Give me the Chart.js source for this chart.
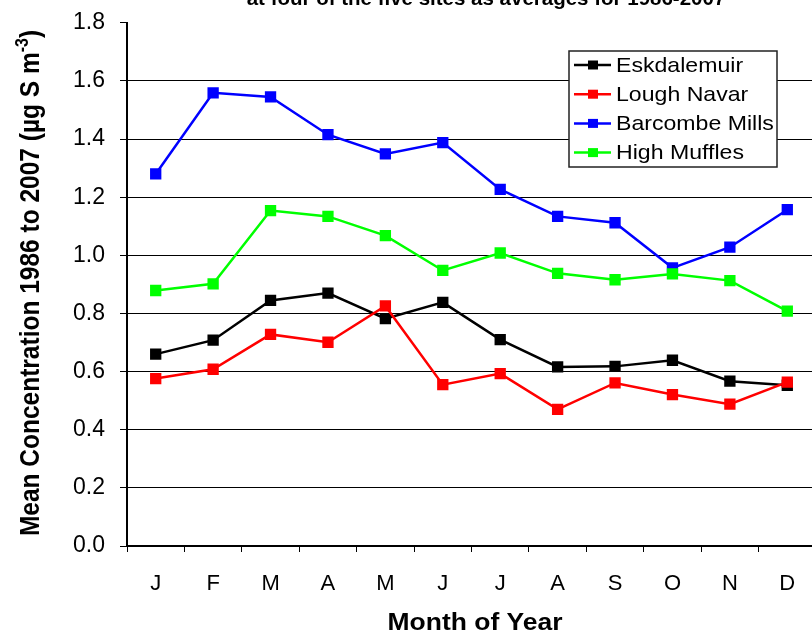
<!DOCTYPE html>
<html>
<head>
<meta charset="utf-8">
<script src="https://cdn.jsdelivr.net/npm/chart.js@4.4.1/dist/chart.umd.min.js"></script>
<style>
    html, body { margin: 0; padding: 0; background: #fff; overflow: hidden; }
    #wrap { width: 812px; height: 632px; overflow: hidden; position: relative; }
    /* canvas sits 6px above the frame so the plot top lands where the figure has it */
    #chart { position: absolute; left: 0; top: -6px; }
</style>
</head>
<body>
<div id="wrap"><canvas id="chart" width="824" height="638"></canvas></div>
<script>
"use strict";

// months, mean concentrations (µg S m-3)
const MONTHS = ["J", "F", "M", "A", "M", "J", "J", "A", "S", "O", "N", "D"];
const ESKDALEMUIR = [0.660, 0.708, 0.845, 0.870, 0.782, 0.838, 0.710, 0.616, 0.618, 0.639, 0.567, 0.553];
const LOUGH_NAVAR = [0.576, 0.608, 0.728, 0.701, 0.826, 0.555, 0.593, 0.470, 0.561, 0.521, 0.488, 0.564];
const BARCOMBE_MILLS = [1.280, 1.559, 1.545, 1.415, 1.349, 1.388, 1.227, 1.134, 1.112, 0.957, 1.028, 1.157];
const HIGH_MUFFLES = [0.879, 0.902, 1.154, 1.134, 1.068, 0.948, 1.008, 0.938, 0.916, 0.936, 0.913, 0.808];
const SITES = ["Eskdalemuir", "Lough Navar", "Barcombe Mills", "High Muffles"];
const SITE_COLORS = ["#000000", "#ff0000", "#0000ff", "#00ff00"];
const Y_MIN = 0, Y_MAX = 1.8, Y_STEP = 0.2;

const TITLE_TAIL = "at four of the five sites as averages for 1986-2007";
const X_TITLE = "Month of Year";
const Y_TITLE = ["Mean Concentration 1986 to 2007 (µg S m", "-3", ")"];

const FONT = "'Liberation Sans', Arial, sans-serif";
const SHIFT = 6; // canvas offset above the page frame

function series(label, values, color, order) {
    return {
        label, data: values, order,
        borderColor: color, backgroundColor: color,
        borderWidth: 2.5, tension: 0,
        pointStyle: "rect", pointRadius: 8, pointHoverRadius: 8,
        pointBorderWidth: 0,
    };
}

// draw text stretched horizontally (the figure is a bit wider than tall)
function stretchText(ctx, text, x, y, sx) {
    ctx.save();
    ctx.translate(x, y);
    ctx.scale(sx, 1);
    ctx.fillText(text, 0, 0);
    ctx.restore();
}

// text, titles and legend drawn by hand (superscript + boxed legend)
const decorations = {
    id: "decorations",
    afterDraw(chart) {
        const ctx = chart.ctx;
        ctx.save();
        ctx.translate(0, SHIFT); // work in page coordinates
        ctx.fillStyle = "#000";
        ctx.textBaseline = "alphabetic";

        // top title line, cut off by the frame
        ctx.font = "bold 20.5px " + FONT;
        ctx.textAlign = "center";
        ctx.fillText(TITLE_TAIL, 486, 4.5);

        // x title
        ctx.font = "bold 23px " + FONT;
        stretchText(ctx, X_TITLE, 475, 630, 1.15);

        // y title with superscript, rotated; thickened a little across
        const mainFont = "bold 24.5px " + FONT;
        const supFont = "bold 16px " + FONT;
        ctx.font = mainFont;
        const w0 = ctx.measureText(Y_TITLE[0]).width;
        const w2 = ctx.measureText(Y_TITLE[2]).width;
        ctx.font = supFont;
        const w1 = ctx.measureText(Y_TITLE[1]).width;
        const total = w0 + w1 + w2;
        ctx.save();
        ctx.translate(39, 283);
        ctx.rotate(-Math.PI / 2);
        ctx.scale(1, 1.1);
        ctx.textAlign = "left";
        let x = -total / 2;
        ctx.font = mainFont;
        ctx.fillText(Y_TITLE[0], x, 0);
        x += w0;
        ctx.font = supFont;
        ctx.fillText(Y_TITLE[1], x, -10);
        x += w1;
        ctx.font = mainFont;
        ctx.fillText(Y_TITLE[2], x, 0);
        ctx.restore();

        // legend box
        const box = { x: 569, y: 51, w: 208, h: 116 };
        ctx.fillStyle = "#fff";
        ctx.fillRect(box.x, box.y, box.w, box.h);
        ctx.strokeStyle = "#222";
        ctx.lineWidth = 1.5;
        ctx.strokeRect(box.x, box.y, box.w, box.h);
        ctx.font = "21px " + FONT;
        ctx.textAlign = "left";
        ctx.textBaseline = "middle";
        chart.data.datasets.forEach((ds, i) => {
            const cy = 65 + i * 29.2;
            ctx.strokeStyle = ds.borderColor;
            ctx.lineWidth = 2.5;
            ctx.beginPath();
            ctx.moveTo(574, cy);
            ctx.lineTo(611, cy);
            ctx.stroke();
            ctx.fillStyle = ds.backgroundColor;
            ctx.fillRect(588, cy - 4.5, 10, 9);
            ctx.fillStyle = "#000";
            stretchText(ctx, ds.label, 616, cy + 1, 1.1);
        });
        ctx.restore();
    },
};

new Chart(document.getElementById("chart"), {
    type: "line",
    data: {
        labels: MONTHS,
        datasets: [
            series(SITES[0], ESKDALEMUIR, SITE_COLORS[0], 4),
            series(SITES[1], LOUGH_NAVAR, SITE_COLORS[1], 3),
            series(SITES[2], BARCOMBE_MILLS, SITE_COLORS[2], 2),
            series(SITES[3], HIGH_MUFFLES, SITE_COLORS[3], 1),
        ],
    },
    options: {
        responsive: false,
        devicePixelRatio: 1,
        animation: false,
        events: [],
        layout: { padding: { top: 16, right: 1, left: 0, bottom: 0 } },
        plugins: { legend: { display: false }, tooltip: { enabled: false }, title: { display: false } },
        scales: {
            x: {
                type: "category",
                offset: true,
                afterFit(scale) { scale.height = 86; },
                grid: { offset: true, drawOnChartArea: false, drawTicks: true, tickLength: 6, tickColor: "#000", tickWidth: 1 },
                border: { display: true, color: "#000", width: 2 },
                ticks: { color: "#000", font: { family: FONT, size: 22 }, padding: 19, maxRotation: 0, autoSkip: false },
            },
            y: {
                min: Y_MIN, max: Y_MAX,
                afterFit(scale) { scale.width = 127; },
                grid: {
                    color: (c) => (c.tick && c.tick.value > Y_MAX - 0.01 ? "rgba(0,0,0,0)" : "#000"),
                    tickColor: "#000", lineWidth: 1, tickLength: 7, drawTicks: true,
                },
                border: { display: true, color: "#000", width: 2 },
                ticks: {
                    stepSize: Y_STEP, color: "#000", padding: 15,
                    font: { family: FONT, size: 23 },
                    callback: (v) => Number(v).toFixed(1),
                },
            },
        },
    },
    plugins: [decorations],
});
</script>
</body>
</html>
